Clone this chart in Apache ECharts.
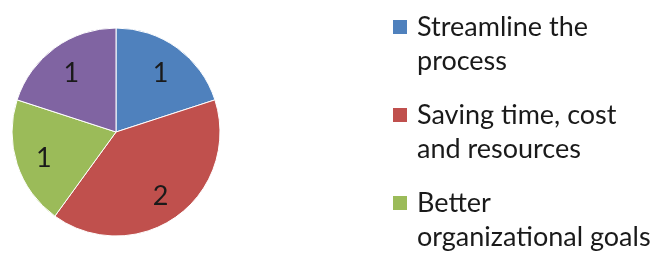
<!DOCTYPE html>
<html>
<head>
<meta charset="utf-8">
<script src="https://cdn.jsdelivr.net/npm/echarts@6/dist/echarts.min.js"></script>
<style>
  html, body { margin: 0; padding: 0; background: #fff; }
  #chart { width: 654px; height: 253px; }
</style>
</head>
<body>
<div id="chart"></div>
<script>
  // slices, clockwise from 12 o'clock
  const categories = ['Streamline the process', 'Saving time, cost and resources', 'Better organizational goals', 'Other'];
  const values = [1, 2, 1, 1];
  const colors = ['#4f81bd', '#c0504d', '#9bbb59', '#8064a2'];
  // only three entries are visible in the legend
  const legendNames = categories.slice(0, 3);
  const legendLabels = ['Streamline the\nprocess', 'Saving time, cost\nand resources', 'Better\norganizational goals'];

  const font = 'Lato';
  const lineH = 34;

  let chart = echarts.init(document.getElementById('chart'));
  let pieData = categories.map((name, i) => ({ name: name, value: values[i] }));

  var option = {
    animation: false,
    color: colors,
    legend: {
      orient: 'vertical',
      left: 393,
      top: -24,
      height: 600,
      padding: 0,
      itemWidth: 14,
      itemHeight: 14,
      itemGap: 88 - lineH * 3,
      icon: 'rect',
      itemStyle: { borderWidth: 0 },
      selectedMode: false,
      data: legendNames,
      // blank first line so the marker sits beside the first text line
      formatter: function (name) {
        return ' \n' + legendLabels[legendNames.indexOf(name)];
      },
      textStyle: {
        fontFamily: font,
        fontSize: 27,
        color: '#1a1a1a',
        lineHeight: lineH,
        padding: [0, 0, 0, 5]
      }
    },
    series: [{
      type: 'pie',
      center: [116, 132],
      radius: [0, 104],
      startAngle: 90,
      clockwise: true,
      silent: true,
      itemStyle: { borderColor: '#fff', borderWidth: 1 },
      label: { show: false },
      labelLine: { show: false },
      data: pieData
    }, {
      // label ring: puts the numbers at ~70% of the radius
      type: 'pie',
      center: [116, 132],
      radius: [42, 104],
      startAngle: 90,
      clockwise: true,
      silent: true,
      itemStyle: { color: 'rgba(0,0,0,0)', borderWidth: 0 },
      label: {
        show: true,
        position: 'inside',
        formatter: '{c}',
        offset: [0, 3],
        fontFamily: font,
        fontSize: 27,
        color: '#1a1a1a'
      },
      labelLine: { show: false },
      data: pieData
    }]
  };

  chart.setOption(option);
</script>
</body>
</html>
